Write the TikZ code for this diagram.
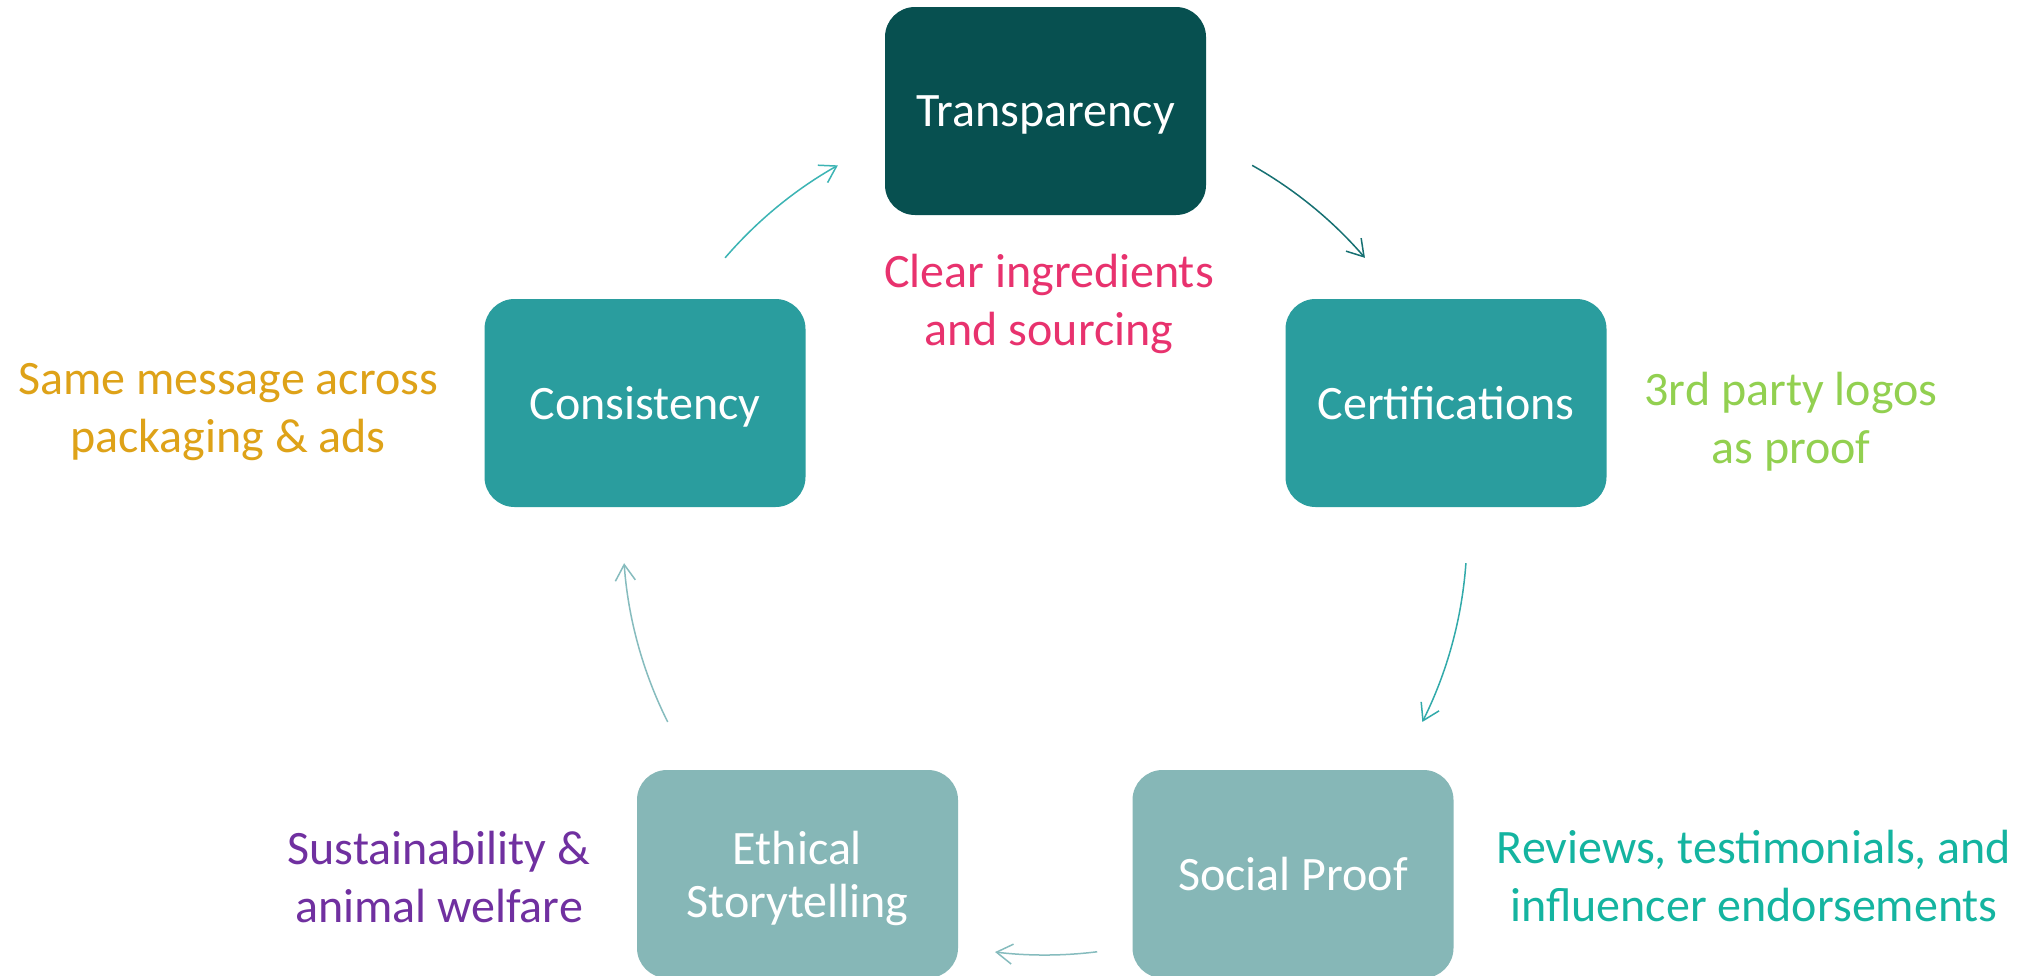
\documentclass[tikz,border=0pt]{standalone}
\usepackage{fontspec}
\setmainfont{Carlito}
\usetikzlibrary{arrows.meta}
\definecolor{cDark}{RGB}{7,80,80}
\definecolor{cMid}{RGB}{42,157,158}
\definecolor{cLight}{RGB}{134,183,183}
\definecolor{aDark}{RGB}{22,112,114}
\definecolor{aMid}{RGB}{50,170,170}
\definecolor{aMid2}{RGB}{60,180,180}
\definecolor{aLight}{RGB}{134,188,190}
\definecolor{tPink}{RGB}{232,50,110}
\definecolor{tGold}{RGB}{222,162,24}
\definecolor{tGreen}{RGB}{146,208,80}
\definecolor{tTeal}{RGB}{20,180,160}
\definecolor{tPurple}{RGB}{112,48,160}
\tikzset{
  stagebox/.style={draw=none, rounded corners=30pt, minimum width=321pt, minimum height=208pt,
    text=white, align=center, font=\fontsize{48}{53}\selectfont, inner sep=0pt, text depth=0pt},
  note/.style={align=center, font=\fontsize{48}{58}\selectfont, inner sep=0pt},
  cyc/.style={line width=1.5pt, -{Straight Barb[length=16pt, width=20pt, line width=1.5pt]}},
}
\begin{document}
\begin{tikzpicture}[x=1pt,y=1pt]
\useasboundingbox (0,0) rectangle (2026,-975);
\fill[white] (0,0) rectangle (2026,-975);
% nodes
\node[stagebox, fill=cDark] (trans) at (1045.5,-111) {Transparency};
\node[stagebox, fill=cMid] (cons) at (645,-403) {Consistency};
\node[stagebox, fill=cMid] (cert) at (1446,-403) {Certifications};
\node[stagebox, fill=cLight] (social) at (1293,-874) {Social Proof};
\node[stagebox, fill=cLight] (ethic) at (797.5,-874) {Ethical\\Storytelling};
% notes
\node[note, text=tPink] (ntrans) at (1049,-304) {Clear ingredients\\and sourcing};
\node[note, text=tGold] (ncons) at (228,-412) {Same message across\\packaging \& ads};
\node[note, text=tGreen] (ncert) at (1791,-422) {3rd party logos\\as proof};
\node[note, text=tTeal] (nsocial) at (1754,-876) {Reviews, testimonials, and\\influencer endorsements};
\node[note, text=tPurple] (nethic) at (439,-877) {Sustainability \&\\animal welfare};
% cycle centre and arrow start points
\coordinate (C) at (1045,-533);
\coordinate (s1) at ([shift={(C)}]60.6:422pt);
\coordinate (s2) at ([shift={(C)}]-4.1:422pt);
\coordinate (s3) at ([shift={(C)}]-82.9:422pt);
\coordinate (s4) at ([shift={(C)}]206.6:422pt);
\coordinate (s5) at ([shift={(C)}]139.3:422pt);
\draw[cyc, aDark] (s1) arc[start angle=60.6, end angle=40.7, radius=422pt];
\draw[cyc, aMid] (s2) arc[start angle=-4.1, end angle=-26.6, radius=422pt];
\draw[cyc, aLight] (s3) arc[start angle=-82.9, end angle=-96.8, radius=422pt];
\draw[cyc, aLight] (s4) arc[start angle=206.6, end angle=184.1, radius=422pt];
\draw[cyc, aMid2] (s5) arc[start angle=139.3, end angle=119.4, radius=422pt];
\end{tikzpicture}
\end{document}
